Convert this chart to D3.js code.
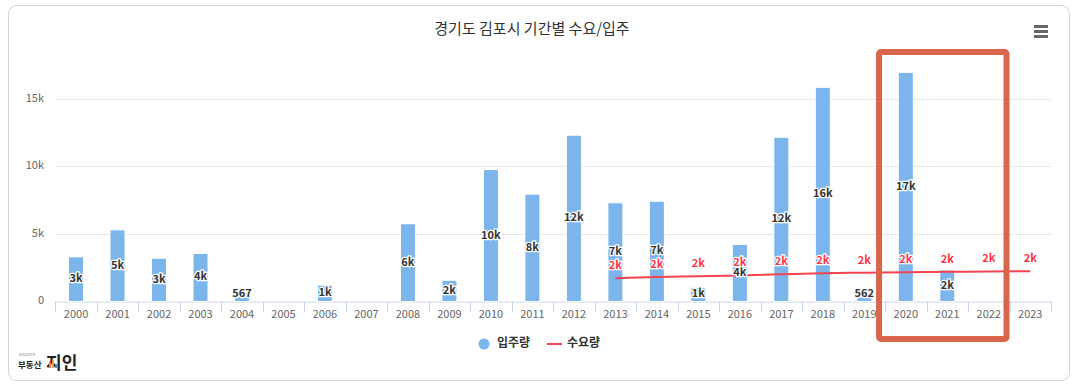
<!DOCTYPE html>
<html>
<head>
<meta charset="utf-8">
<script src="https://cdn.jsdelivr.net/npm/d3@7"></script>
<style>
    body { margin: 0; background: #ffffff; }
    svg text { font-family: "Noto Sans CJK KR", "Noto Sans", sans-serif; }
</style>
</head>
<body>
<div id="chart"></div>
<script>
// Chart data
//
var years      = ['2000','2001','2002','2003','2004','2005','2006','2007','2008','2009','2010','2011',
                  '2012','2013','2014','2015','2016','2017','2018','2019','2020','2021','2022','2023'];
var moveIn     = [3300, 5300, 3200, 3560, 567, null, 1200, null, 5750, 1570, 9760, 7940,
                  12300, 7300, 7420, 1050, 4220, 12150, 15840, 562, 16950, 2330, null, null];
var demandYears = ['2013','2014','2015','2016','2017','2018','2019','2020','2021','2022','2023'];
var demand     = [1726, 1815, 1867, 1926, 2015, 2096, 2133, 2170, 2193, 2222, 2244];
var yTicks     = [0, 5000, 10000, 15000];
var yTickText  = ['0', '5k', '10k', '15k'];
var titleText  = '경기도 김포시 기간별 수요/입주';
var legendText = ['입주량', '수요량'];
var boxYears   = ['2020', '2022'];

// Layout
//
var svg_width  = 1077;
var svg_height = 385;
var x_box_min  = 55.3;
var x_box_max  = 1051;
var y_box_max  = 301.5;

var barColor   = '#7cb5ec';
var lineColor  = '#f4444f';

function fmt(v) {
    return v >= 1000 ? Math.round(v / 1000) + 'k' : String(Math.round(v));
}

var svg = d3.select('#chart').append('svg')
    .attr('width', svg_width)
    .attr('height', svg_height);

// Outer frame
//
svg.append('rect')
    .attr('x', 8.5).attr('y', 5.5)
    .attr('width', 1061).attr('height', 375)
    .attr('rx', 8)
    .attr('fill', '#ffffff')
    .attr('stroke', '#ccd6e0')
    .attr('stroke-width', 1);

// Title
//
svg.append('text')
    .attr('x', 532).attr('y', 30)
    .attr('text-anchor', 'middle')
    .attr('dominant-baseline', 'middle')
    .style('font-size', '15px')
    .style('fill', '#333333')
    .text(titleText);

// Menu icon
//
[26.5, 31.5, 36.5].forEach(function(y) {
    svg.append('line')
        .attr('x1', 1034).attr('x2', 1048)
        .attr('y1', y).attr('y2', y)
        .attr('stroke', '#666666')
        .attr('stroke-width', 3);
});

// Scales
//
var x = d3.scaleBand()
    .domain(years)
    .range([x_box_min, x_box_max]);

var y = d3.scaleLinear()
    .domain([0, 15000])
    .range([y_box_max, y_box_max - 202.8]);

// Grid lines and y labels
//
var grid = svg.append('g').attr('class', 'grid');
yTicks.forEach(function(t, i) {
    if (t > 0) {
        grid.append('line')
            .attr('x1', x_box_min).attr('x2', x_box_max)
            .attr('y1', Math.round(y(t)) + 0.5).attr('y2', Math.round(y(t)) + 0.5)
            .attr('stroke', '#e6e6e6');
    }
    grid.append('text')
        .attr('x', 44).attr('y', y(t))
        .attr('text-anchor', 'end')
        .attr('dominant-baseline', 'middle')
        .style('font-size', '11px')
        .style('fill', '#666666')
        .text(yTickText[i]);
});

// X axis
//
var xAxis = svg.append('g')
    .attr('transform', `translate(0,${y_box_max})`)
    .call(d3.axisBottom(x).tickSize(0).tickPadding(9));
xAxis.select('.domain').attr('stroke', '#ccd6eb');
xAxis.selectAll('text')
    .style('font-size', '11px')
    .style('fill', '#666666')
    .style('font-family', '"Noto Sans CJK KR", sans-serif');

var bounds = years.map(function(d) { return x(d); }).concat([x_box_max]);
svg.append('g').selectAll('line')
    .data(bounds)
    .join('line')
    .attr('x1', d => Math.round(d) + 0.5).attr('x2', d => Math.round(d) + 0.5)
    .attr('y1', y_box_max).attr('y2', y_box_max + 10)
    .attr('stroke', '#ccd6eb');

// Bars (입주량)
//
var barData = years.map(function(d, i) { return { year: d, value: moveIn[i] }; })
    .filter(d => d.value !== null);
var barW = 15;

svg.append('g').selectAll('rect')
    .data(barData)
    .join('rect')
    .attr('x', d => x(d.year) + x.bandwidth() / 2 - barW / 2)
    .attr('y', d => y(d.value))
    .attr('width', barW)
    .attr('height', d => y_box_max - y(d.value))
    .attr('fill', barColor)
    .attr('stroke', '#ffffff')
    .attr('stroke-width', 1);

// Demand line (수요량)
//
var lineData = demandYears.map(function(d, i) { return { year: d, value: demand[i] }; });
var line = d3.line()
    .x(d => x(d.year) + x.bandwidth() / 2)
    .y(d => y(d.value))
    .curve(d3.curveMonotoneX);

svg.append('path')
    .datum(lineData)
    .attr('d', line)
    .attr('fill', 'none')
    .attr('stroke', lineColor)
    .attr('stroke-width', 2);

// Bar labels
//
svg.append('g').selectAll('text')
    .data(barData)
    .join('text')
    .attr('x', d => x(d.year) + x.bandwidth() / 2)
    .attr('y', d => Math.min((y(d.value) + y_box_max) / 2, y_box_max - 7))
    .attr('text-anchor', 'middle')
    .attr('dominant-baseline', 'middle')
    .style('font-size', '11px')
    .style('font-weight', 'bold')
    .style('fill', '#333333')
    .style('stroke', '#ffffff')
    .style('stroke-width', 2.5)
    .style('stroke-linejoin', 'round')
    .style('paint-order', 'stroke')
    .text(d => fmt(d.value));

// Demand labels
//
svg.append('g').selectAll('text')
    .data(lineData)
    .join('text')
    .attr('x', d => x(d.year) + x.bandwidth() / 2)
    .attr('y', d => y(d.value) - 12)
    .attr('text-anchor', 'middle')
    .attr('dominant-baseline', 'middle')
    .style('font-size', '11px')
    .style('font-weight', 'bold')
    .style('fill', '#ff3347')
    .style('stroke', '#ffffff')
    .style('stroke-width', 2.5)
    .style('stroke-linejoin', 'round')
    .style('paint-order', 'stroke')
    .text(d => fmt(d.value));

// Highlight box around 2020 - 2022
//
var boxX1 = x(boxYears[0]) - 6;
var boxX2 = x(boxYears[1]) + x.bandwidth() - 3;
svg.append('rect')
    .attr('x', boxX1).attr('y', 52)
    .attr('width', boxX2 - boxX1).attr('height', 287)
    .attr('rx', 2)
    .attr('fill', 'none')
    .attr('stroke', '#d9664a')
    .attr('stroke-width', 6);

// Legend
//
var legend = svg.append('g');
legend.append('circle')
    .attr('cx', 484).attr('cy', 344).attr('r', 5.5)
    .attr('fill', barColor);
legend.append('text')
    .attr('x', 497).attr('y', 344)
    .attr('dominant-baseline', 'middle')
    .style('font-size', '12px').style('font-weight', 'bold').style('fill', '#333333')
    .text(legendText[0]);
legend.append('line')
    .attr('x1', 547).attr('x2', 562).attr('y1', 344).attr('y2', 344)
    .attr('stroke', lineColor).attr('stroke-width', 2);
legend.append('text')
    .attr('x', 567).attr('y', 344)
    .attr('dominant-baseline', 'middle')
    .style('font-size', '12px').style('font-weight', 'bold').style('fill', '#333333')
    .text(legendText[1]);

// Logo
//
var logo = svg.append('g');
logo.append('text')
    .attr('x', 19).attr('y', 356)
    .style('font-size', '4px').style('fill', '#888888')
    .text('BIGDATA');
logo.append('text')
    .attr('x', 18).attr('y', 368)
    .style('font-size', '8.5px').style('font-weight', 'bold').style('fill', '#222222')
    .text('부동산');
logo.append('text')
    .attr('x', 46).attr('y', 369)
    .style('font-size', '17px').style('font-weight', 'bold').style('fill', '#222222')
    .text('지인');
[['#e9774a', 49, 362, 2, 6], ['#f29c4a', 52, 359, 2, 9], ['#3d8fd6', 55, 364, 2, 4]].forEach(function(b) {
    logo.append('rect')
        .attr('x', b[1]).attr('y', b[2]).attr('width', b[3]).attr('height', b[4])
        .attr('fill', b[0]);
});
</script>
</body>
</html>
